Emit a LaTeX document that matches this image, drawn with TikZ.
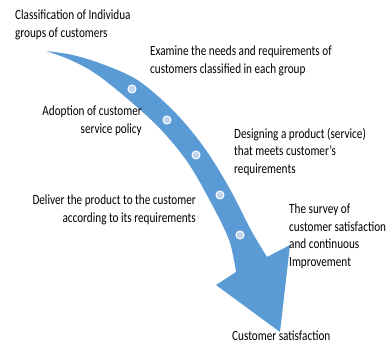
\documentclass[tikz,border=0pt]{standalone}
\usepackage{fontspec}
\setmainfont{Carlito}[FakeStretch=0.8]
\definecolor{arrowblue}{RGB}{91,155,213}
\definecolor{dotfill}{RGB}{190,212,238}
\begin{document}
\begin{tikzpicture}[x=1pt,y=-1pt,
  lbl/.style={font=\fontsize{14}{17.5}\selectfont, inner sep=0pt, text=black},
  stepdot/.style={fill=dotfill, draw=white, line width=1pt}]
\useasboundingbox (0,0) rectangle (391,345);
% arrow body and head
\fill[arrowblue] plot[smooth,tension=0.55] coordinates {(46,51) (70.8,54.6) (99.3,63.0) (137.7,80.2) (174.8,112.2) (205.0,148.7) (230.1,189.4) (251.0,230.1) (267,257)}
  -- (290,245) -- (280,332) -- (216,285)
  -- plot[smooth,tension=0.55] coordinates {(236,272) (229.0,239.9) (209.9,200.6) (187.0,161.3) (159.2,127.8) (126.3,97.8) (94.7,73.0) (69.2,59.4) (46,51)} -- cycle;
% dots
\foreach \p/\n in {{(132,89)}/d1,{(167,120)}/d2,{(196,155)}/d3,{(220,195)}/d4,{(240,235)}/d5}
  \node[stepdot, circle, minimum size=8pt, inner sep=0pt] (\n) at \p {};
% labels
\node[lbl, anchor=north west, align=left] (t1) at (15,10) {Classification of Individua\\groups of customers};
\node[lbl, anchor=north west, align=left] (t2) at (150,46) {Examine the needs and requirements of\\customers classified in each group};
\node[lbl, anchor=north east, align=right] (t3) at (142,106) {Adoption of customer\\service policy};
\node[lbl, anchor=north west, align=left] (t4) at (234,128) {Designing a product (service)\\that meets customer's\\requirements};
\node[lbl, anchor=north east, align=right] (t5) at (196,195) {Deliver the product to the customer\\according to its requirements};
\node[lbl, anchor=north west, align=left] (t6) at (289,204) {The survey of\\customer satisfaction\\and continuous\\Improvement};
\node[lbl, anchor=north west, align=left] (t7) at (232,331) {Customer satisfaction};
\end{tikzpicture}
\end{document}
